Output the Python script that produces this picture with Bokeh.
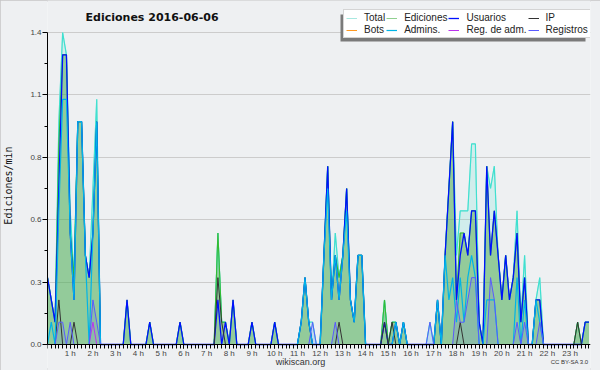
from bokeh.plotting import figure
from bokeh.models import (Range1d, FixedTicker, PrintfTickFormatter, Legend, LegendItem,
                          Label, BoxAnnotation)
from bokeh.embed import file_html
from bokeh.resources import INLINE

# ---- data: edits per minute, one value per 10-minute bin (6 bins per hour row) ----
total = [
    0.3, 0.2, 0.1, 1.0, 1.4, 1.3,
    0.6, 0.3, 1.0, 1.0, 0.4, 0.3,
    0.7, 1.1, 0.0, 0.0, 0.0, 0.0,
    0.0, 0.0, 0.0, 0.2, 0.0, 0.0,
    0.0, 0.0, 0.0, 0.1, 0.0, 0.0,
    0.0, 0.0, 0.0, 0.0, 0.0, 0.1,
    0.0, 0.0, 0.0, 0.0, 0.0, 0.0,
    0.0, 0.0, 0.0, 0.5, 0.1, 0.1,
    0.0, 0.2, 0.0, 0.0, 0.0, 0.0,
    0.1, 0.0, 0.0, 0.0, 0.0, 0.0,
    0.1, 0.0, 0.0, 0.0, 0.0, 0.0,
    0.0, 0.1, 0.3, 0.1, 0.1, 0.0,
    0.0, 0.4, 0.8, 0.2, 0.5, 0.3,
    0.4, 0.7, 0.2, 0.1, 0.4, 0.4,
    0.0, 0.0, 0.0, 0.0, 0.0, 0.2,
    0.0, 0.1, 0.1, 0.0, 0.1, 0.0,
    0.0, 0.0, 0.0, 0.0, 0.0, 0.1,
    0.0, 0.2, 0.0, 0.4, 0.7, 1.0,
    0.4, 0.6, 0.6, 0.6, 0.9, 0.9,
    0.1, 0.0, 0.8, 0.7, 0.8, 0.4,
    0.2, 0.4, 0.2, 0.3, 0.6, 0.1,
    0.4, 0.0, 0.0, 0.2, 0.3, 0.0,
    0.0, 0.0, 0.0, 0.0, 0.0, 0.0,
    0.0, 0.0, 0.1, 0.0, 0.1, 0.1,
]
ediciones = [
    0.3, 0.2, 0.1, 0.9, 1.3, 1.3,
    0.5, 0.3, 1.0, 1.0, 0.4, 0.3,
    0.5, 1.0, 0.0, 0.0, 0.0, 0.0,
    0.0, 0.0, 0.0, 0.2, 0.0, 0.0,
    0.0, 0.0, 0.0, 0.1, 0.0, 0.0,
    0.0, 0.0, 0.0, 0.0, 0.0, 0.1,
    0.0, 0.0, 0.0, 0.0, 0.0, 0.0,
    0.0, 0.0, 0.0, 0.5, 0.1, 0.1,
    0.0, 0.2, 0.0, 0.0, 0.0, 0.0,
    0.1, 0.0, 0.0, 0.0, 0.0, 0.0,
    0.1, 0.0, 0.0, 0.0, 0.0, 0.0,
    0.0, 0.1, 0.3, 0.1, 0.0, 0.0,
    0.0, 0.4, 0.8, 0.2, 0.4, 0.3,
    0.4, 0.7, 0.2, 0.1, 0.4, 0.4,
    0.0, 0.0, 0.0, 0.0, 0.0, 0.2,
    0.0, 0.1, 0.1, 0.0, 0.1, 0.0,
    0.0, 0.0, 0.0, 0.0, 0.0, 0.0,
    0.0, 0.2, 0.0, 0.4, 0.7, 1.0,
    0.2, 0.5, 0.5, 0.4, 0.6, 0.6,
    0.1, 0.0, 0.8, 0.4, 0.6, 0.4,
    0.2, 0.4, 0.2, 0.3, 0.5, 0.1,
    0.3, 0.0, 0.0, 0.2, 0.2, 0.0,
    0.0, 0.0, 0.0, 0.0, 0.0, 0.0,
    0.0, 0.0, 0.1, 0.0, 0.1, 0.1,
]
usuarios = [
    0.3, 0.2, 0.1, 0.7, 1.3, 1.3,
    0.5, 0.2, 1.0, 1.0, 0.4, 0.3,
    0.5, 1.0, 0.0, 0.0, 0.0, 0.0,
    0.0, 0.0, 0.0, 0.2, 0.0, 0.0,
    0.0, 0.0, 0.0, 0.1, 0.0, 0.0,
    0.0, 0.0, 0.0, 0.0, 0.0, 0.1,
    0.0, 0.0, 0.0, 0.0, 0.0, 0.0,
    0.0, 0.0, 0.0, 0.2, 0.0, 0.1,
    0.0, 0.2, 0.0, 0.0, 0.0, 0.0,
    0.1, 0.0, 0.0, 0.0, 0.0, 0.0,
    0.1, 0.0, 0.0, 0.0, 0.0, 0.0,
    0.0, 0.1, 0.3, 0.1, 0.0, 0.0,
    0.0, 0.4, 0.8, 0.2, 0.4, 0.2,
    0.4, 0.7, 0.2, 0.1, 0.4, 0.4,
    0.0, 0.0, 0.0, 0.0, 0.0, 0.1,
    0.0, 0.0, 0.1, 0.0, 0.1, 0.0,
    0.0, 0.0, 0.0, 0.0, 0.0, 0.0,
    0.0, 0.2, 0.0, 0.4, 0.7, 1.0,
    0.2, 0.4, 0.5, 0.4, 0.6, 0.6,
    0.1, 0.0, 0.8, 0.4, 0.6, 0.4,
    0.2, 0.4, 0.2, 0.3, 0.5, 0.1,
    0.3, 0.0, 0.0, 0.2, 0.2, 0.0,
    0.0, 0.0, 0.0, 0.0, 0.0, 0.0,
    0.0, 0.0, 0.0, 0.0, 0.1, 0.1,
]
ip = [
    0.0, 0.0, 0.0, 0.2, 0.0, 0.0,
    0.0, 0.1, 0.0, 0.0, 0.0, 0.0,
    0.0, 0.0, 0.0, 0.0, 0.0, 0.0,
    0.0, 0.0, 0.0, 0.0, 0.0, 0.0,
    0.0, 0.0, 0.0, 0.0, 0.0, 0.0,
    0.0, 0.0, 0.0, 0.0, 0.0, 0.0,
    0.0, 0.0, 0.0, 0.0, 0.0, 0.0,
    0.0, 0.0, 0.0, 0.3, 0.1, 0.0,
    0.0, 0.0, 0.0, 0.0, 0.0, 0.0,
    0.0, 0.0, 0.0, 0.0, 0.0, 0.0,
    0.0, 0.0, 0.0, 0.0, 0.0, 0.0,
    0.0, 0.0, 0.0, 0.0, 0.0, 0.0,
    0.0, 0.0, 0.0, 0.0, 0.0, 0.1,
    0.0, 0.0, 0.0, 0.0, 0.0, 0.0,
    0.0, 0.0, 0.0, 0.0, 0.0, 0.1,
    0.0, 0.1, 0.0, 0.0, 0.0, 0.0,
    0.0, 0.0, 0.0, 0.0, 0.0, 0.0,
    0.0, 0.0, 0.0, 0.0, 0.0, 0.0,
    0.0, 0.1, 0.0, 0.0, 0.0, 0.0,
    0.0, 0.0, 0.0, 0.0, 0.0, 0.0,
    0.0, 0.0, 0.0, 0.0, 0.0, 0.0,
    0.0, 0.0, 0.0, 0.0, 0.0, 0.0,
    0.0, 0.0, 0.0, 0.0, 0.0, 0.0,
    0.0, 0.0, 0.1, 0.0, 0.0, 0.0,
]
bots = [
    0.0, 0.0, 0.0, 0.0, 0.0, 0.0,
    0.0, 0.0, 0.0, 0.0, 0.0, 0.0,
    0.0, 0.0, 0.0, 0.0, 0.0, 0.0,
    0.0, 0.0, 0.0, 0.0, 0.0, 0.0,
    0.0, 0.0, 0.0, 0.0, 0.0, 0.0,
    0.0, 0.0, 0.0, 0.0, 0.0, 0.0,
    0.0, 0.0, 0.0, 0.0, 0.0, 0.0,
    0.0, 0.0, 0.0, 0.0, 0.0, 0.0,
    0.0, 0.0, 0.0, 0.0, 0.0, 0.0,
    0.0, 0.0, 0.0, 0.0, 0.0, 0.0,
    0.0, 0.0, 0.0, 0.0, 0.0, 0.0,
    0.0, 0.0, 0.0, 0.0, 0.0, 0.0,
    0.0, 0.0, 0.0, 0.0, 0.0, 0.0,
    0.0, 0.0, 0.0, 0.0, 0.0, 0.0,
    0.0, 0.0, 0.0, 0.0, 0.0, 0.0,
    0.0, 0.0, 0.0, 0.0, 0.0, 0.0,
    0.0, 0.0, 0.0, 0.0, 0.0, 0.0,
    0.0, 0.0, 0.0, 0.0, 0.0, 0.0,
    0.0, 0.0, 0.0, 0.0, 0.0, 0.0,
    0.0, 0.0, 0.0, 0.0, 0.0, 0.0,
    0.0, 0.0, 0.0, 0.0, 0.0, 0.0,
    0.0, 0.0, 0.0, 0.0, 0.0, 0.0,
    0.0, 0.0, 0.0, 0.0, 0.0, 0.0,
    0.0, 0.0, 0.0, 0.0, 0.0, 0.0,
]
admins = [
    0.0, 0.1, 0.0, 0.6, 1.1, 1.1,
    0.5, 0.2, 1.0, 1.0, 0.4, 0.0,
    0.5, 1.0, 0.0, 0.0, 0.0, 0.0,
    0.0, 0.0, 0.0, 0.0, 0.0, 0.0,
    0.0, 0.0, 0.0, 0.0, 0.0, 0.0,
    0.0, 0.0, 0.0, 0.0, 0.0, 0.0,
    0.0, 0.0, 0.0, 0.0, 0.0, 0.0,
    0.0, 0.0, 0.0, 0.0, 0.0, 0.0,
    0.0, 0.0, 0.0, 0.0, 0.0, 0.0,
    0.0, 0.0, 0.0, 0.0, 0.0, 0.0,
    0.0, 0.0, 0.0, 0.0, 0.0, 0.0,
    0.0, 0.1, 0.3, 0.1, 0.0, 0.0,
    0.0, 0.4, 0.7, 0.2, 0.4, 0.2,
    0.4, 0.6, 0.2, 0.1, 0.4, 0.4,
    0.0, 0.0, 0.0, 0.0, 0.0, 0.0,
    0.0, 0.0, 0.1, 0.0, 0.1, 0.0,
    0.0, 0.0, 0.0, 0.0, 0.0, 0.0,
    0.0, 0.2, 0.0, 0.4, 0.2, 0.3,
    0.1, 0.3, 0.1, 0.3, 0.4, 0.3,
    0.0, 0.0, 0.2, 0.2, 0.2, 0.0,
    0.0, 0.0, 0.0, 0.0, 0.3, 0.0,
    0.2, 0.0, 0.0, 0.2, 0.1, 0.0,
    0.0, 0.0, 0.0, 0.0, 0.0, 0.0,
    0.0, 0.0, 0.0, 0.0, 0.0, 0.0,
]
reg_adm = [
    0.0, 0.0, 0.0, 0.0, 0.0, 0.0,
    0.0, 0.0, 0.0, 0.0, 0.0, 0.0,
    0.1, 0.0, 0.0, 0.0, 0.0, 0.0,
    0.0, 0.0, 0.0, 0.0, 0.0, 0.0,
    0.0, 0.0, 0.0, 0.0, 0.0, 0.0,
    0.0, 0.0, 0.0, 0.0, 0.0, 0.0,
    0.0, 0.0, 0.0, 0.0, 0.0, 0.0,
    0.0, 0.0, 0.0, 0.0, 0.0, 0.0,
    0.0, 0.0, 0.0, 0.0, 0.0, 0.0,
    0.0, 0.0, 0.0, 0.0, 0.0, 0.0,
    0.0, 0.0, 0.0, 0.0, 0.0, 0.0,
    0.0, 0.0, 0.0, 0.0, 0.0, 0.0,
    0.0, 0.0, 0.0, 0.0, 0.0, 0.0,
    0.0, 0.0, 0.0, 0.0, 0.0, 0.0,
    0.0, 0.0, 0.0, 0.0, 0.0, 0.0,
    0.0, 0.0, 0.0, 0.0, 0.0, 0.0,
    0.0, 0.0, 0.0, 0.0, 0.0, 0.0,
    0.0, 0.0, 0.0, 0.0, 0.0, 0.0,
    0.0, 0.0, 0.0, 0.0, 0.0, 0.0,
    0.0, 0.0, 0.0, 0.0, 0.0, 0.0,
    0.0, 0.0, 0.0, 0.0, 0.0, 0.0,
    0.0, 0.0, 0.0, 0.0, 0.0, 0.0,
    0.0, 0.0, 0.0, 0.0, 0.0, 0.0,
    0.0, 0.0, 0.0, 0.0, 0.0, 0.0,
]
registros = [
    0.0, 0.0, 0.0, 0.1, 0.1, 0.0,
    0.1, 0.0, 0.0, 0.0, 0.0, 0.0,
    0.2, 0.1, 0.0, 0.0, 0.0, 0.0,
    0.0, 0.0, 0.0, 0.0, 0.0, 0.0,
    0.0, 0.0, 0.0, 0.0, 0.0, 0.0,
    0.0, 0.0, 0.0, 0.0, 0.0, 0.0,
    0.0, 0.0, 0.0, 0.0, 0.0, 0.0,
    0.0, 0.0, 0.0, 0.0, 0.0, 0.0,
    0.0, 0.0, 0.0, 0.0, 0.0, 0.0,
    0.0, 0.0, 0.0, 0.0, 0.0, 0.0,
    0.0, 0.0, 0.0, 0.0, 0.0, 0.0,
    0.0, 0.0, 0.0, 0.0, 0.1, 0.0,
    0.0, 0.0, 0.0, 0.0, 0.1, 0.0,
    0.0, 0.0, 0.0, 0.0, 0.0, 0.0,
    0.0, 0.0, 0.0, 0.0, 0.0, 0.0,
    0.0, 0.0, 0.0, 0.0, 0.0, 0.0,
    0.0, 0.0, 0.0, 0.0, 0.0, 0.1,
    0.0, 0.0, 0.0, 0.0, 0.0, 0.0,
    0.2, 0.1, 0.1, 0.2, 0.3, 0.3,
    0.0, 0.0, 0.0, 0.3, 0.2, 0.0,
    0.0, 0.0, 0.0, 0.0, 0.1, 0.0,
    0.1, 0.0, 0.0, 0.0, 0.1, 0.0,
    0.0, 0.0, 0.0, 0.0, 0.0, 0.0,
    0.0, 0.0, 0.0, 0.0, 0.0, 0.0,
]

# x position of each 10-minute bin, in hours
hours = [i / 6 for i in range(len(total))]

y_major = [0.0, 0.28, 0.56, 0.84, 1.12, 1.4]
y_minor = [0.14, 0.42, 0.70, 0.98, 1.26]
x_major = list(range(1, 24))
x_minor = hours
x_labels = {h: f"{h} h" for h in x_major}

# ---- layout (pixels) ----
W, H = 600, 370
FL, FR = 47, 590            # frame left / right
Y0_PX, YTOP_PX = 344, 32    # pixel rows of y=0 and y=1.4
XMAX = 23.9                 # hours at the right edge of the axis
ppy = (Y0_PX - YTOP_PX) / 1.4
y_lo = -(H - Y0_PX) / ppy
y_hi = 1.4 + YTOP_PX / ppy

BG = "#eef0f2"
p = figure(width=W, height=H, output_backend="svg", toolbar_location=None, title=None,
           x_range=Range1d(0, XMAX), y_range=Range1d(y_lo, y_hi),
           min_border_left=FL, min_border_right=W - FR, min_border_top=0, min_border_bottom=0)
p.background_fill_color = BG
p.border_fill_color = BG
p.outline_line_color = None
p.styles = {"outline": "2px solid #c6c6c6", "outline-offset": "-2px"}

# areas
p.varea(x=hours, y1=0, y2=total, fill_color="#40e0d0", fill_alpha=0.16)
p.varea(x=hours, y1=0, y2=ediciones, fill_color="#48a238", fill_alpha=0.45)
p.varea(x=hours, y1=0, y2=registros, fill_color="#5050ff", fill_alpha=0.12)

# pale legend keys for Total / Ediciones (drawn underneath the real lines, fully covered)
leg_tot = p.line(hours, total, line_color="#a8e8e0", line_width=1)
leg_edi = p.line(hours, ediciones, line_color="#90d090", line_width=1)

# lines
r_bots = p.line(hours, bots, line_color="#ff9922", line_width=1)
p.line(hours, total, line_color="#40e0d0", line_width=1.2)
p.line(hours, ediciones, line_color="#33bb33", line_width=1.1)
r_usu = p.line(hours, usuarios, line_color="#0010ff", line_width=1.3)
r_ip = p.line(hours, ip, line_color="#333333", line_width=1)
r_adm = p.line(hours, admins, line_color="#00b4e6", line_width=1.2)
r_radm = p.line(hours, reg_adm, line_color="#bb33ee", line_width=1)
r_reg = p.line(hours, registros, line_color="#5a5aff", line_width=1)

# axes
xa, ya = p.xaxis[0], p.yaxis[0]
ya.ticker = FixedTicker(ticks=y_major, minor_ticks=y_minor)
ya.formatter = PrintfTickFormatter(format="%.1f")
ya.bounds = (0, 1.4)
xa.ticker = FixedTicker(ticks=x_major, minor_ticks=x_minor)
xa.major_label_overrides = x_labels
xa.bounds = (0, XMAX)
xa.fixed_location = 0
for ax in (xa, ya):
    ax.axis_line_color = "black"
    ax.major_tick_line_color = "black"
    ax.minor_tick_line_color = "black"
    ax.major_tick_in = 0
    ax.minor_tick_in = 0
    ax.major_label_text_font = "Liberation Sans"
    ax.major_label_text_font_size = "8px"
    ax.major_label_text_color = "#444444"
xa.major_tick_out = 4
xa.minor_tick_out = 4
xa.major_label_standoff = 0
ya.major_tick_out = 5
ya.minor_tick_out = 3
ya.major_label_standoff = 1
ya.axis_label = "Ediciones/min"
ya.axis_label_text_font = "DejaVu Sans Mono"
ya.axis_label_text_font_size = "10px"
ya.axis_label_text_font_style = "normal"
ya.axis_label_text_color = "#111111"
ya.axis_label_standoff = 13

p.xgrid.visible = False
p.ygrid.ticker = FixedTicker(ticks=y_major)
p.ygrid.grid_line_color = "#cccccc"

# title
p.add_layout(Label(x=153.5 - FL, y=H - 17, x_units="screen", y_units="screen",
                   text="Ediciones  2016-06-06", text_font="DejaVu Sans",
                   text_font_size="11px", text_font_style="bold", text_color="#111111",
                   text_align="center", text_baseline="middle"))

# legend with shadow (pixel box in page coordinates)
LEFT, TOP, RIGHT, BOTTOM = 343, 11, 590, 38
shadow = BoxAnnotation(left=LEFT - 3 - FL, right=RIGHT - 5 - FL,
                       top=H - (TOP + 3), bottom=H - (BOTTOM + 3),
                       left_units="screen", right_units="screen",
                       top_units="screen", bottom_units="screen",
                       fill_color="#7a7a7a", fill_alpha=1, line_color=None)
p.add_layout(shadow)

legend = Legend(items=[
    LegendItem(label="Total", renderers=[leg_tot]),
    LegendItem(label="Ediciones", renderers=[leg_edi]),
    LegendItem(label="Usuarios", renderers=[r_usu]),
    LegendItem(label="IP", renderers=[r_ip]),
    LegendItem(label="Bots", renderers=[r_bots]),
    LegendItem(label="Admins.", renderers=[r_adm]),
    LegendItem(label="Reg. de adm.", renderers=[r_radm]),
    LegendItem(label="Registros", renderers=[r_reg]),
], location=(LEFT - FL, H - BOTTOM), orientation="horizontal", ncols=4)
legend.background_fill_color = "white"
legend.background_fill_alpha = 1
legend.border_line_color = "#aaaaaa"
legend.border_line_width = 1
legend.label_text_font = "Liberation Sans"
legend.label_text_font_size = "10px"
legend.label_text_color = "#222222"
legend.label_height = 10
legend.label_standoff = 7
legend.glyph_width = 11
legend.glyph_height = 10
legend.spacing = 1
legend.padding = 2
legend.margin = 0
p.add_layout(legend)

# footer texts
p.add_layout(Label(x=300 - FL, y=H - 361, x_units="screen", y_units="screen",
                   text="wikiscan.org", text_font="Liberation Sans", text_font_size="9px",
                   text_color="#333333", text_align="center", text_baseline="middle"))
p.add_layout(Label(x=588 - FL, y=H - 361, x_units="screen", y_units="screen",
                   text="CC BY-SA 3.0", text_font="Liberation Sans", text_font_size="6px",
                   text_color="#333333", text_align="right", text_baseline="middle"))

open("out.html", "w").write(file_html(p, INLINE))
